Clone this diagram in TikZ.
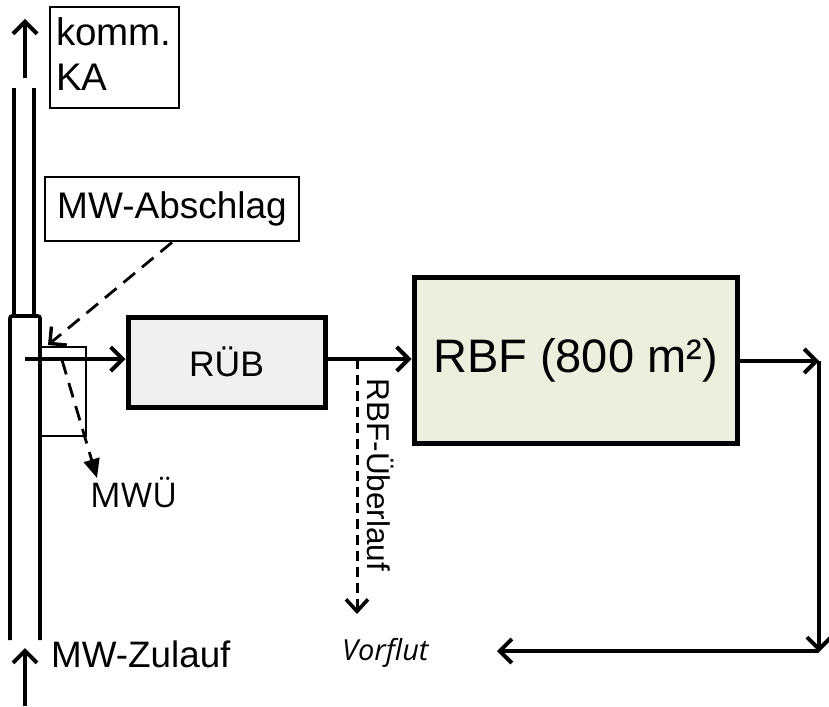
\documentclass[tikz,border=0pt]{standalone}
\usepackage{fontspec}
\setmainfont{Liberation Sans}
\newfontfamily\segoe{Open Sans}
\usetikzlibrary{arrows.meta}
\definecolor{ruebfill}{HTML}{F0F0F0}
\definecolor{rbffill}{HTML}{EBEFDD}
\begin{document}
\begin{tikzpicture}[x=1pt,y=-1pt,
  thinbox/.style={draw, line width=2.8pt, inner sep=0pt},
  thickbox/.style={draw, line width=5pt, inner sep=0pt},
  pipe/.style={line width=3.6pt},
  arr/.style={line width=3.4pt, -{Straight Barb[length=12pt,width=24pt,line width=4pt]}},
  darr/.style={line width=2.8pt, dash pattern=on 15pt off 9pt, -{Straight Barb[length=12pt,width=24pt,line width=3.4pt]}},
  darrs/.style={line width=3pt, dash pattern=on 10pt off 6pt, -{Straight Barb[length=12pt,width=22pt,line width=3.6pt]}},
  darrt/.style={line width=2.8pt, dash pattern=on 15pt off 9pt, -{Triangle[length=19pt,width=16pt]}},
  txt/.style={inner sep=0pt, font=\fontsize{37}{42}\selectfont}
]
\useasboundingbox (0,0) rectangle (829,706);

% boxes
\node[thinbox, minimum width=129pt, minimum height=101pt] (ka) at (114.5,57.5) {};
\node[inner sep=0pt, align=left, anchor=north west, font=\fontsize{38.5}{45}\selectfont] (katext) at (56,17) {komm.\\KA};
\node[thinbox, minimum width=254pt, minimum height=64pt, txt] (abschlag) at (172,209) {MW-Abschlag};
\node[thickbox, fill=ruebfill, minimum width=197pt, minimum height=90pt, font=\fontsize{35.5}{40}\selectfont] (rueb) at (226.5,362) {RÜB};
\node[thickbox, fill=rbffill, minimum width=323pt, minimum height=166pt, font=\fontsize{47}{54}\selectfont] (rbf) at (575.5,360) {RBF (800 m²)};

% pipe
\draw[pipe] (14,88) -- (14,317);
\draw[pipe] (34,88) -- (34,317);
\draw[pipe, rounded corners=2pt] (10,640) -- (10,316) -- (40,316) -- (40,640);
\node[thinbox, minimum width=45pt, minimum height=89pt] (mwbox) at (63.5,391.5) {};

% coordinates
\coordinate (kain) at (25,78);
\coordinate (kaout) at (25,19);
\coordinate (zin0) at (25,706);
\coordinate (zin1) at (25,648);
\coordinate (inlet) at (25,359);
\coordinate (ab1) at (48,345);
\coordinate (mw0) at (62,360);
\coordinate (mw1) at (97,478);
\coordinate (j1) at (357,359);
\coordinate (ovend) at (357,614);
\coordinate (c1) at (819,361);
\coordinate (c2) at (819,652);
\coordinate (c3) at (497,651);

% texts
\node[inner sep=0pt, font=\segoe\fontsize{34}{40}\selectfont, anchor=base west] (mwue) at (90,507) {MWÜ};
\node[inner sep=0pt, font=\fontsize{36.8}{42}\selectfont, anchor=base west] (zulauf) at (51,667) {MW-Zulauf};
\node[inner sep=0pt, font=\segoe\itshape\fontsize{29}{34}\selectfont, anchor=base west] (vorflut) at (342,660) {Vorflut};
\node[inner sep=0pt, font=\fontsize{31.5}{36}\selectfont, rotate=-90] (ueberlauf) at (381,475) {RBF-Überlauf};

% connectors
\draw[arr] (kain) -- (kaout);
\draw[arr] (zin0) -- (zin1);
\draw[arr] (inlet) -- (inlet -| rueb.west);
\draw[darr] (abschlag.south) -- (ab1);
\draw[darrt] (mw0) -- (mw1);
\draw[arr] (j1 -| rueb.east) -- (j1 -| rbf.west);
\draw[darrs] (j1) -- (ovend);
\draw[arr] (c1 -| rbf.east) -- (c1);
\draw[arr] (c1) -- (c2);
\draw[arr] (c2 |- c3) -- (c3);
\end{tikzpicture}
\end{document}
